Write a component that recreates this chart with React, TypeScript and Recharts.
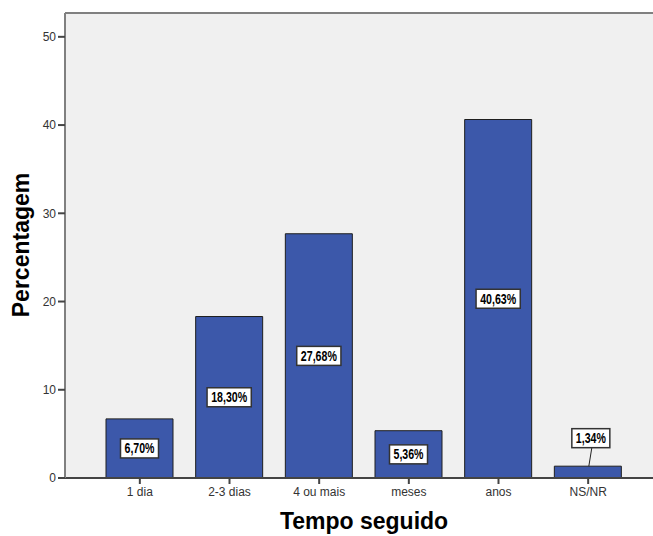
import React from "react";
import {
  BarChart,
  Bar,
  XAxis,
  YAxis,
  CartesianGrid,
  LabelList,
  ReferenceLine,
  Label,
} from "recharts";

const categories = ["1 dia", "2-3 dias", "4 ou mais", "meses", "anos", "NS/NR"];
const percentages = [6.7, 18.3, 27.68, 5.36, 40.63, 1.34];
const yTicks = [0, 10, 20, 30, 40, 50];

const data = categories.map((name, i) => ({ name, value: percentages[i] }));

const fmt = (v: number) => v.toFixed(2).replace(".", ",") + "%";

const labelFont = "'Liberation Sans Narrow', 'Liberation Sans', Arial";

const BoxLabel = (props: any) => {
  const { x, y, width, height, value } = props;
  const text = fmt(Number(value));
  const w = text.length * 6.2 + 7;
  const h = 19;
  const cx = x + width / 2;
  let bx = cx;
  let cy = y + height / 2;
  let leader = null;
  if (height < 22) {
    // small bar: box above with a leader line
    bx = cx + 3;
    cy = y - 28;
    leader = <line x1={cx + 4} y1={cy + h / 2} x2={cx + 1} y2={y} stroke="#222" strokeWidth={1} />;
  }
  return (
    <g>
      {leader}
      <rect x={bx - w / 2} y={cy - h / 2} width={w} height={h} fill="#fff" stroke="#333" strokeWidth={1.5} />
      <text
        x={bx}
        y={cy + 5}
        textAnchor="middle"
        fontSize={14}
        fontWeight="bold"
        fontFamily={labelFont}
        textLength={text.length * 6}
        lengthAdjust="spacingAndGlyphs"
        fill="#000"
      >
        {text}
      </text>
    </g>
  );
};

const YTitle = () => (
  <text
    x={29}
    y={245}
    transform="rotate(-90, 29, 245)"
    textAnchor="middle"
    fontSize={23}
    fontWeight="bold"
    fontFamily="'Liberation Sans', Arial"
    fill="#000"
  >
    Percentagem
  </text>
);

const App = () => {
  return (
    <div style={{ position: "absolute", left: 0, top: 0, background: "#fff" }}>
      <BarChart
        width={653}
        height={536}
        data={data}
        margin={{ top: 13, right: 0, left: 0, bottom: 0 }}
      >
        <CartesianGrid fill="#f0f0f0" stroke="none" horizontal={false} vertical={false} />
        <ReferenceLine y={52.7} stroke="#808080" strokeWidth={2} />
        <XAxis
          dataKey="name"
          height={58}
          padding={{ left: 30, right: 20 }}
          tickSize={6}
          tickMargin={3}
          axisLine={{ stroke: "#444", strokeWidth: 2 }}
          tickLine={{ stroke: "#444", strokeWidth: 2 }}
          tick={{ fontSize: 12, fill: "#333", fontFamily: "'Liberation Sans', Arial" }}
          interval={0}
        >
          <Label
            value="Tempo seguido"
            position="insideBottom"
            offset={7}
            dx={5}
            fontSize={23}
            fontWeight="bold"
            fontFamily="'Liberation Sans', Arial"
            fill="#000"
          />
        </XAxis>
        <YAxis
          width={65}
          domain={[0, 52.7]}
          ticks={yTicks}
          allowDataOverflow
          tickSize={7}
          tickMargin={2}
          axisLine={{ stroke: "#808080", strokeWidth: 2 }}
          tickLine={{ stroke: "#444", strokeWidth: 2 }}
          tick={{ fontSize: 12, fill: "#333", fontFamily: "'Liberation Sans', Arial" }}
        >
          <Label content={<YTitle />} />
        </YAxis>
        <Bar
          dataKey="value"
          fill="#3c58aa"
          stroke="#1e1e1e"
          strokeWidth={1}
          barSize={67}
          isAnimationActive={false}
        >
          <LabelList dataKey="value" content={<BoxLabel />} />
        </Bar>
      </BarChart>
    </div>
  );
};

export default App;
